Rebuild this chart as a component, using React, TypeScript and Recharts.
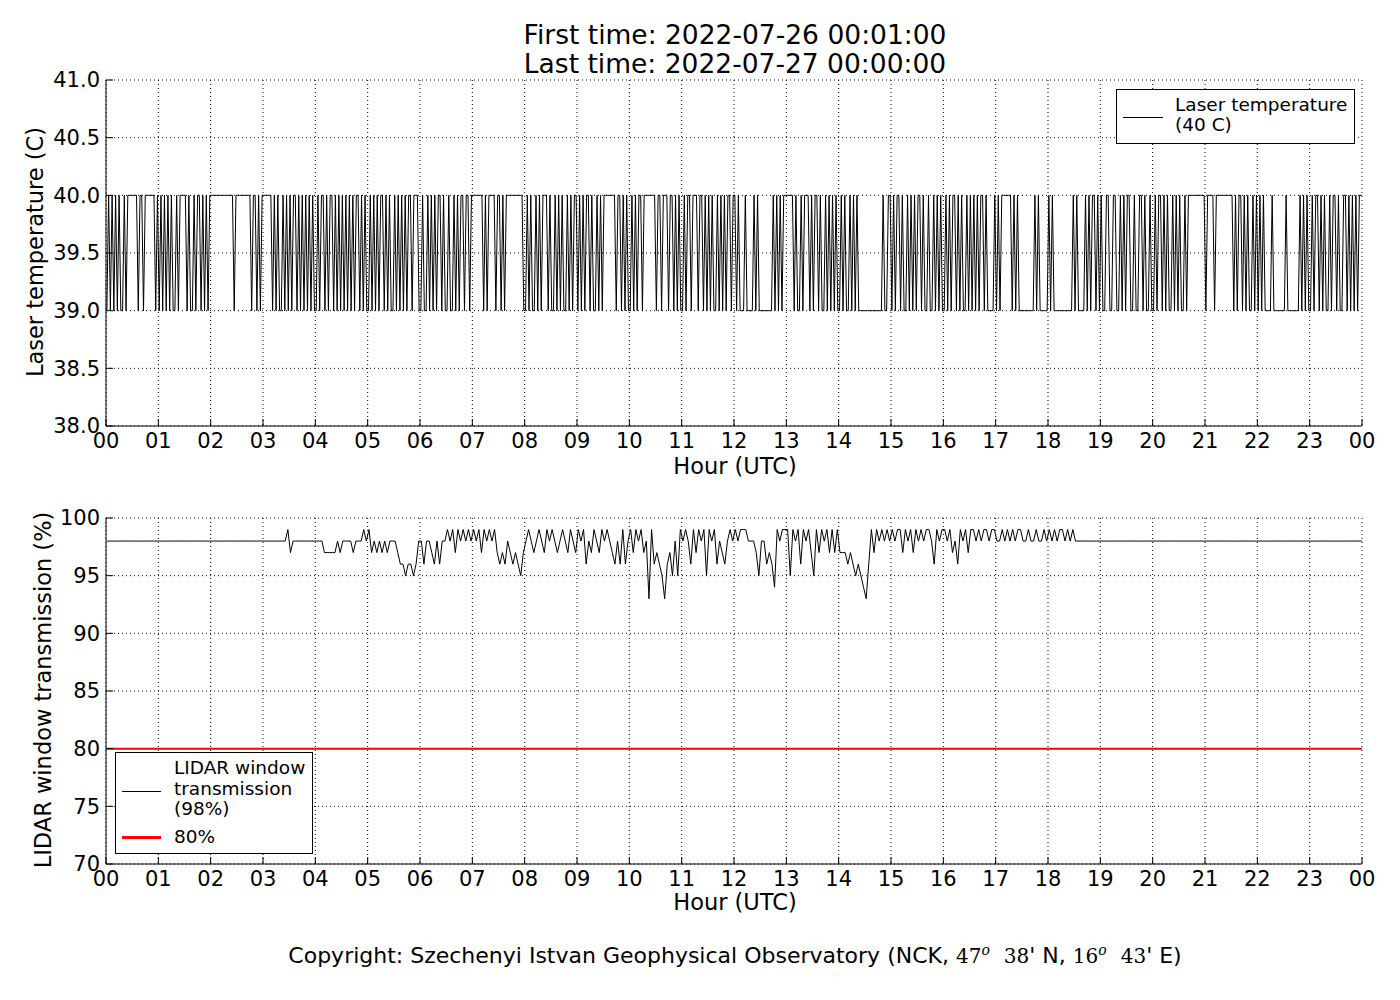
import React from "react";
import { LineChart, Line, XAxis, YAxis, CartesianGrid } from "recharts";

// laser temperature, one string per hour, 2-minute samples: "0" = 39 C, "1" = 40 C
const laserHours = [
  "010101010010111111011011111101",
  "010101010010111101001011010101",
  "111111111111101111111110110101",
  "111110101001010101101010101010",
  "010110101101010101010101101010",
  "010101011010100101010101101110",
  "010010101011010010010101101101",
  "111111010111101101011111111110",
  "010100101011101001010100101011",
  "010101101001010111111101101010",
  "010101101111111011011101101010",
  "010110111011010101001010101101",
  "101000100001010000000010101011",
  "111101001011101011010010101010",
  "010100101010000000000000010011",
  "010110100101010110100100101010",
  "010101101010010101010110100001",
  "010111111010100000000010100000",
  "101000000000001010000101011010",
  "100110011001010110010011010010",
  "010110101001010100101111111111",
  "011110111111111101011010100101",
  "010100001000000010000000101010",
  "010110101001011010011010101011",
];

// window transmission, one string per hour, 3-minute samples: digit + 90 = percent
const windowHours = [
  "88888888888888888888",
  "88888888888888888888",
  "88888888888888888888",
  "88888888897888888888",
  "88877777878888788898",
  "97878787888766566568",
  "86887686889897989898",
  "98979898976768767657",
  "89878987989878987987",
  "98968798798987686968",
  "97989783967653675859",
  "89869798959896876898",
  "98999888758867649899",
  "95989698975979897979",
  "77767656543697989898",
  "98997989798989986989",
  "98978698979989899899",
  "88989898998898898898",
  "98989989898888888888",
  "88888888888888888888",
  "88888888888888888888",
  "88888888888888888888",
  "88888888888888888888",
  "88888888888888888888",
];

const hourTicks = [0, 1, 2, 3, 4, 5, 6, 7, 8, 9, 10, 11, 12, 13, 14, 15, 16, 17, 18, 19, 20, 21, 22, 23, 24];
const laserTicks = [38, 38.5, 39, 39.5, 40, 40.5, 41];
const windowTicks = [70, 75, 80, 85, 90, 95, 100];
const limitLevel = 80;

const font = "'DejaVu Sans', sans-serif";

const buildSeries = (hours: string[], base: number) => {
  const pts: { t: number; v: number; limit: number }[] = [];
  pts.push({ t: 1 / 60, v: base + Number(hours[0][0]), limit: limitLevel });
  hours.forEach((s, h) => {
    for (let i = 0; i < s.length; i++) {
      pts.push({ t: h + (i + 0.5) / s.length, v: base + Number(s[i]), limit: limitLevel });
    }
  });
  const last = hours[hours.length - 1];
  pts.push({ t: 24, v: base + Number(last[last.length - 1]), limit: limitLevel });
  return pts;
};

const laserData = buildSeries(laserHours, 39);
const windowData = buildSeries(windowHours, 90);

const tickStyle = { fontSize: 21, fill: "#000", fontFamily: font };
const axisLine = { stroke: "#000", strokeWidth: 1 };
const hourFmt = (h: number) => String(h % 24).padStart(2, "0");

interface PanelProps {
  data: any[];
  top: number;
  domain: [number, number];
  ticks: number[];
  fmt: (v: number) => string;
  showLimit?: boolean;
}

const Panel: React.FC<PanelProps> = ({ data, top, domain, ticks, fmt, showLimit }) => (
  <div style={{ position: "absolute", left: 0, top }}>
    <LineChart width={1400} height={470} data={data} margin={{ top: 78, right: 38, bottom: 16, left: 6 }}>
      <CartesianGrid stroke="#000" strokeDasharray="1 3" strokeWidth={1} />
      <XAxis
        type="number" dataKey="t" domain={[0, 24]} ticks={hourTicks} interval={0}
        tickFormatter={hourFmt} tick={tickStyle} axisLine={axisLine} tickLine={axisLine}
        tickSize={-7} tickMargin={14} height={30}
      />
      <XAxis
        xAxisId="top" orientation="top" type="number" dataKey="t" domain={[0, 24]} ticks={hourTicks}
        interval={0} tick={false} axisLine={axisLine} tickLine={axisLine} tickSize={-7} height={0}
      />
      <YAxis
        type="number" domain={domain} ticks={ticks} interval={0} tickFormatter={fmt}
        tick={tickStyle} axisLine={axisLine} tickLine={axisLine} tickSize={-7} tickMargin={13} width={100}
      />
      <YAxis
        yAxisId="right" orientation="right" type="number" domain={domain} ticks={ticks} interval={0}
        tick={false} axisLine={axisLine} tickLine={axisLine} tickSize={-7} width={0}
      />
      <Line type="linear" dataKey="v" stroke="#000" strokeWidth={1} dot={false} isAnimationActive={false} />
      {showLimit && (
        <Line type="linear" dataKey="limit" stroke="#ff0000" strokeWidth={2} dot={false} isAnimationActive={false} />
      )}
    </LineChart>
  </div>
);

const txt: React.CSSProperties = {
  position: "absolute", fontFamily: font, color: "#000", whiteSpace: "nowrap",
};

const serif: React.CSSProperties = { fontFamily: "'DejaVu Serif', serif", fontSize: 20 };
const degree: React.CSSProperties = { fontStyle: "italic", fontSize: 14 };

const App: React.FC = () => (
  <div style={{ position: "absolute", left: 0, top: 0, width: 1400, height: 1000, background: "#fff" }}>
    <Panel data={laserData} top={2} domain={[38, 41]} ticks={laserTicks} fmt={(v) => v.toFixed(1)} />
    <Panel data={windowData} top={440} domain={[70, 100]} ticks={windowTicks} fmt={(v) => String(v)} showLimit />

    {/* titles and axis labels */}
    <div style={{ ...txt, left: 0, width: 1470, top: 20, fontSize: 26.5, lineHeight: "29px", textAlign: "center" }}>
      First time: 2022-07-26 00:01:00<br />Last time: 2022-07-27 00:00:00
    </div>
    <div style={{ ...txt, left: 0, width: 1470, top: 453, fontSize: 22.5, lineHeight: "26px", textAlign: "center" }}>
      Hour (UTC)
    </div>
    <div style={{ ...txt, left: 0, width: 1470, top: 889, fontSize: 22.5, lineHeight: "26px", textAlign: "center" }}>
      Hour (UTC)
    </div>
    <div style={{ ...txt, left: 35, top: 252, fontSize: 22.5, lineHeight: "26px", transform: "translate(-50%, -50%) rotate(-90deg)" }}>
      Laser temperature (C)
    </div>
    <div style={{ ...txt, left: 43, top: 690, fontSize: 22.5, lineHeight: "26px", transform: "translate(-50%, -50%) rotate(-90deg)" }}>
      LIDAR window transmission (%)
    </div>

    {/* legends */}
    <div style={{ position: "absolute", left: 1116, top: 89, width: 237, height: 53, border: "1px solid #000", background: "#fff" }}>
      <div style={{ position: "absolute", left: 6, top: 27, width: 40, borderTop: "1px solid #000" }} />
      <div style={{ ...txt, left: 58, top: 5, fontSize: 18.5, lineHeight: "20px" }}>
        Laser temperature<br />(40 C)
      </div>
    </div>
    <div style={{ position: "absolute", left: 115, top: 752, width: 196, height: 100, border: "1px solid #000", background: "#fff" }}>
      <div style={{ position: "absolute", left: 6, top: 38, width: 39, borderTop: "1px solid #000" }} />
      <div style={{ ...txt, left: 58, top: 5, fontSize: 18.5, lineHeight: "20.5px" }}>
        LIDAR window<br />transmission<br />(98%)
      </div>
      <div style={{ position: "absolute", left: 6, top: 83, width: 39, borderTop: "3px solid #ff0000" }} />
      <div style={{ ...txt, left: 58, top: 74, fontSize: 18.5, lineHeight: "20px" }}>80%</div>
    </div>

    <div style={{ ...txt, left: 0, width: 1470, top: 937, fontSize: 22, lineHeight: "26px", textAlign: "center" }}>
      Copyright: Szechenyi Istvan Geophysical Observatory (NCK,{" "}
      <span style={serif}>47<sup style={degree}>o</sup></span>
      {"\u00a0\u00a0"}<span style={serif}>38</span>' N,{" "}
      <span style={serif}>16<sup style={degree}>o</sup></span>
      {"\u00a0\u00a0"}<span style={serif}>43</span>' E)
    </div>
  </div>
);

export default App;
